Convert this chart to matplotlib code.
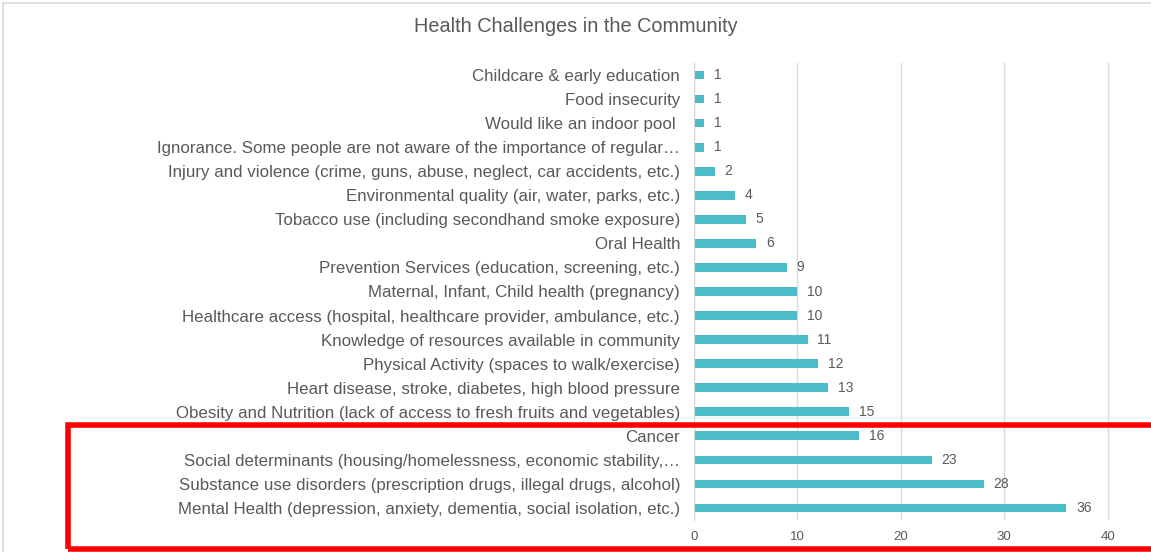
import matplotlib
matplotlib.use("Agg")
import matplotlib.pyplot as plt
from matplotlib.patches import Rectangle

categories = [
    "Mental Health (depression, anxiety, dementia, social isolation, etc.)",
    "Substance use disorders (prescription drugs, illegal drugs, alcohol)",
    "Social determinants (housing/homelessness, economic stability,\u2026",
    "Cancer",
    "Obesity and Nutrition (lack of access to fresh fruits and vegetables)",
    "Heart disease, stroke, diabetes, high blood pressure",
    "Physical Activity (spaces to walk/exercise)",
    "Knowledge of resources available in community",
    "Healthcare access (hospital, healthcare provider, ambulance, etc.)",
    "Maternal, Infant, Child health (pregnancy)",
    "Prevention Services (education, screening, etc.)",
    "Oral Health",
    "Tobacco use (including secondhand smoke exposure)",
    "Environmental quality (air, water, parks, etc.)",
    "Injury and violence (crime, guns, abuse, neglect, car accidents, etc.)",
    "Ignorance. Some people are not aware of the importance of regular\u2026",
    "Would like an indoor pool ",
    "Food insecurity",
    "Childcare & early education",
]
values = [36, 28, 23, 16, 15, 13, 12, 11, 10, 10, 9, 6, 5, 4, 2, 1, 1, 1, 1]
xticks = [0, 10, 20, 30, 40]
title = "Health Challenges in the Community"

plt.rcParams['font.family'] = ['Liberation Sans', 'DejaVu Sans']
W, H = 1151, 552
fig = plt.figure(figsize=(W / 100, H / 100), dpi=100)
ax = fig.add_axes([694 / W, (552 - 520) / H, (W - 694) / W, (520 - 63) / H])

txt = "#595959"
bar_color = "#4BBDC8"
y = list(range(len(values)))
ax.barh(y, values, height=0.36, color=bar_color, zorder=3)
for yi, v in zip(y, values):
    ax.annotate(str(v), (v, yi), xytext=(7, 0), textcoords="offset points",
                va="center", ha="left", fontsize=10, color=txt)

ax.set_xlim(0, 44.2)
ax.set_ylim(-0.5, len(values) - 0.5)
ax.set_yticks(y)
ax.set_yticklabels(categories, fontsize=12.2, color=txt)
ax.set_xticks(xticks)
ax.set_xticklabels([str(t) for t in xticks], fontsize=9.5, color=txt)
ax.tick_params(axis="both", length=0)
ax.tick_params(axis="y", pad=10)
ax.tick_params(axis="x", pad=8)
ax.grid(axis="x", color="#D9D9D9", linewidth=1, zorder=0)
for s in ["top", "right", "bottom"]:
    ax.spines[s].set_visible(False)
ax.spines["left"].set_color("#D9D9D9")
ax.spines["left"].set_zorder(4)

fig.text(0.5, 1 - 27 / H, title, ha="center", va="center", fontsize=14.3, color=txt)

# Chart border (top and left visible)
fig.add_artist(Rectangle((3 / W, -0.1), 1.2, 1 - 3 / H + 0.1, transform=fig.transFigure,
                         fill=False, edgecolor="#D9D9D9", linewidth=1.2))
# Red highlight box
fig.add_artist(Rectangle((67.5 / W, 1 - 548.5 / H), 1.2, (548.5 - 425) / H,
                         transform=fig.transFigure, fill=False,
                         edgecolor="#FF0000", linewidth=4, zorder=10))

fig.savefig("out.png", dpi=100, facecolor="white")
